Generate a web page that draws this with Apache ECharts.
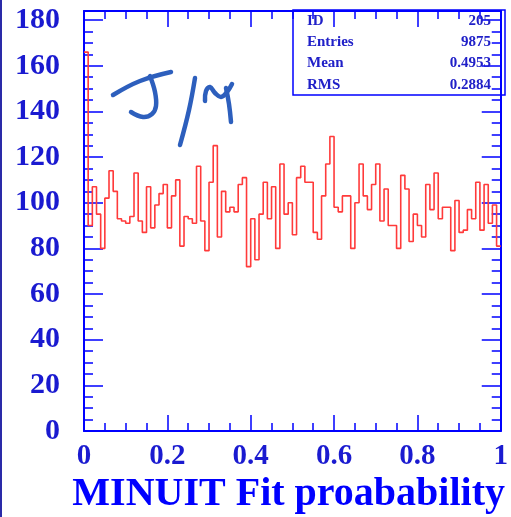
<!DOCTYPE html>
<html>
<head>
<meta charset="utf-8">
<script src="https://cdn.jsdelivr.net/npm/echarts@6/dist/echarts.min.js"></script>
<style>
  html, body { margin: 0; padding: 0; background: #ffffff; }
  #chart { width: 511px; height: 517px; }
</style>
</head>
<body>
<div id="chart"></div>
<script>
// Histogram of MINUIT fit probabilities, 100 bins over [0, 1]
var binLow = 0;
var binHigh = 1;
var counts = [
  166, 90, 107, 95, 80, 102, 114, 105, 93, 92,
  91, 94, 113, 92, 87, 107, 89, 99, 104, 108,
  89, 103, 110, 81, 94, 93, 91, 116, 92, 79,
  109, 125, 85, 105, 96, 98, 96, 108, 111, 72,
  93, 75, 95, 109, 93, 107, 80, 117, 95, 100,
  86, 111, 116, 109, 109, 87, 84, 103, 117, 129,
  98, 96, 103, 103, 80, 100, 117, 103, 97, 108,
  117, 92, 106, 90, 90, 80, 112, 106, 83, 95,
  90, 85, 108, 97, 113, 93, 98, 98, 79, 101,
  87, 88, 97, 93, 109, 88, 108, 91, 99, 81
];

// Statistics box entries
var statNames = ['ID', 'Entries', 'Mean', 'RMS'];
var statValues = ['205', '9875', '0.4953', '0.2884'];

var xTitle = 'MINUIT Fit proabability';
var yMax = 184;

var frameBlue = '#0000ff';
var labelBlue = '#1a1ad0';
var serif = '"Liberation Serif", "Times New Roman", serif';

// Left bin edges with the histogram content; closing point at the upper edge
var binWidth = (binHigh - binLow) / counts.length;
var stepData = counts.map(function (c, i) { return [binLow + i * binWidth, c]; });
stepData.push([binHigh, counts[counts.length - 1]]);

function xAxisDef(pos, withLabels) {
  return {
    type: 'value', position: pos, min: binLow, max: binHigh, interval: 0.2,
    axisLine: { show: true, onZero: false, lineStyle: { color: frameBlue, width: 2 } },
    axisTick: { show: true, inside: true, length: 16, lineStyle: { color: frameBlue, width: 1.5 } },
    minorTick: { show: true, splitNumber: 4, length: 8, lineStyle: { color: frameBlue, width: 1.5 } },
    splitLine: { show: false },
    axisLabel: {
      show: withLabels, margin: 11, color: labelBlue, fontFamily: serif, fontWeight: 'bold', fontSize: 29,
      formatter: function (v) { return (v === 0 || v === 1) ? String(v) : v.toFixed(1); }
    }
  };
}

function yAxisDef(pos, step, tickLen, withLabels, withLine) {
  return {
    type: 'value', position: pos, min: 0, max: yMax, interval: step,
    axisLine: { show: withLine, onZero: false, lineStyle: { color: frameBlue, width: 2 } },
    axisTick: { show: true, inside: true, length: tickLen, lineStyle: { color: frameBlue, width: 1.5 } },
    splitLine: { show: false },
    axisLabel: {
      show: withLabels, showMaxLabel: false, margin: 24, color: labelBlue,
      fontFamily: serif, fontWeight: 'bold', fontSize: 30
    }
  };
}

// Statistics box texts
var statGraphics = [{
  type: 'rect', shape: { x: 293, y: 10, width: 212, height: 85 },
  style: { fill: 'none', stroke: frameBlue, lineWidth: 1.5 }, z: 50
}];
statNames.forEach(function (name, i) {
  var yc = 21 + i * 21.3;
  statGraphics.push({
    type: 'text', x: 307, y: yc, z: 50,
    style: { text: name, fill: '#2020c8', font: 'bold 15px ' + serif, textAlign: 'left', textVerticalAlign: 'middle' }
  });
  statGraphics.push({
    type: 'text', x: 491, y: yc, z: 50,
    style: { text: statValues[i], fill: '#2020c8', font: 'bold 15px ' + serif, textAlign: 'right', textVerticalAlign: 'middle' }
  });
});

// Hand-written "J/ψ" annotation
var ink = { stroke: '#2d5fbd', lineWidth: 4.5, lineCap: 'round', lineJoin: 'round', fill: null };
var strokes = [
  [[113, 95], [140, 81], [171, 72]],
  [[150, 76], [155, 92], [156, 106], [152, 114], [143, 117], [131, 112]],
  [[195, 78], [189, 110], [180, 145]],
  [[205, 101], [206, 91], [210, 87], [215, 93], [221, 97], [227, 92], [232, 84]],
  [[226, 88], [229, 104], [231, 122]]
];
var annotation = strokes.map(function (pts) {
  return { type: 'polyline', shape: { points: pts, smooth: 0.4 }, style: ink, z: 60 };
});

var chart = echarts.init(document.getElementById('chart'), null, { renderer: 'canvas' });
chart.setOption({
  animation: false,
  backgroundColor: '#ffffff',
  grid: { left: 84, right: 6, top: 11, bottom: 86, show: false },
  xAxis: [xAxisDef('bottom', true), xAxisDef('top', false)],
  yAxis: [
    yAxisDef('left', 20, 19, true, true),
    yAxisDef('left', 5, 9, false, false),
    yAxisDef('right', 20, 19, false, true),
    yAxisDef('right', 5, 9, false, false)
  ],
  series: [{
    type: 'line', xAxisIndex: 0, yAxisIndex: 0, step: 'end', data: stepData,
    symbol: 'none', clip: true,
    lineStyle: { color: '#ff3a3a', width: 1.6 }
  }],
  graphic: [
    { type: 'rect', shape: { x: 0, y: 0, width: 2, height: 517 }, style: { fill: '#2a2aa8' }, z: 40 },
    {
      type: 'text', x: 505, y: 495, z: 50,
      style: { text: xTitle, fill: frameBlue, font: 'bold 40px ' + serif, textAlign: 'right', textVerticalAlign: 'middle' }
    }
  ].concat(statGraphics, annotation)
});
</script>
</body>
</html>
